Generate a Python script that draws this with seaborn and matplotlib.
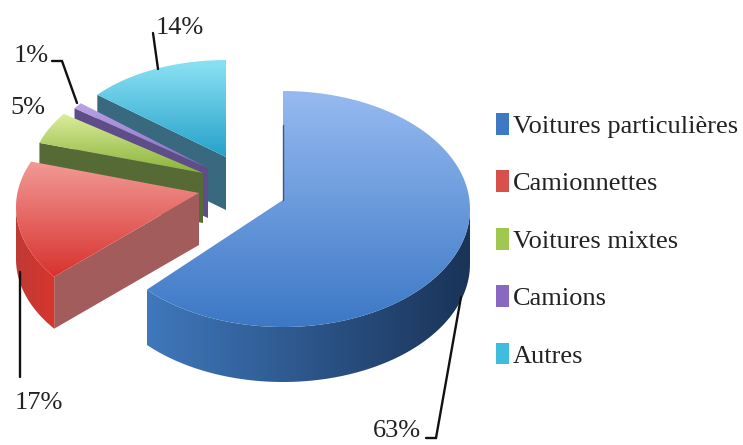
import numpy as np
import matplotlib
matplotlib.use('Agg')
import matplotlib.pyplot as plt
from matplotlib.patches import Polygon, Patch
import seaborn as sns

categories = ['Voitures particulières', 'Camionnettes', 'Voitures mixtes', 'Camions', 'Autres']
values = [63, 17, 5, 1, 14]

sns.set_theme(style='white')
plt.rcParams['font.family'] = ['Liberation Serif', 'DejaVu Serif']

# top gradient, face colour, rim gradient for each slice
top_colors = [('#96baf0', '#3c78c6'), ('#f29a96', '#d8322e'), ('#dcee9c', '#8ab33a'),
              ('#bba2e6', '#8a6cc0'), ('#8ce2f4', '#26a2ca')]
face_colors = ['#23456f', '#a35c5c', '#566a36', '#5f4d8a', '#39697f']
rim_colors = [('#3f78bc', '#1a3358'), ('#c03a34', '#d8352e'), ('#566a36', '#566a36'),
              ('#5f4d8a', '#5f4d8a'), ('#39697f', '#39697f')]
legend_colors = ['#3f78c4', '#d8504c', '#a0c850', '#8868c0', '#40bcdc']

# layout of the exploded slices in pixels: cx, cy, rx, ry, apex x, apex y, depth, turn
layout = [(283, 209, 187, 118, 283, 200, 55, 0),
          (199, 207, 183, 114, 199, 193, 52, 5.5),
          (203, 175, 172, 104, 203, 173, 50, 0),
          (208, 167, 165, 100, 208, 168, 50, 0),
          (226, 156, 167, 96, 226, 157, 53, 0)]

W, H = 743, 445
fig = plt.figure(figsize=(W / 100, H / 100), dpi=100)
ax = fig.add_axes([0, 0, 1, 1])

z = [2]


def fill_grad(pts, colors, horizontal=False):
    cmap = sns.blend_palette(colors, 64, as_cmap=True)
    z[0] += 1
    patch = Polygon(pts, closed=True, fc='none', ec='none', zorder=z[0])
    ax.add_patch(patch)
    grad = np.linspace(0, 1, 128)
    grad = grad[None, :] if horizontal else grad[:, None]
    xs, ys = pts[:, 0], pts[:, 1]
    im = ax.imshow(grad, cmap=cmap, aspect='auto', zorder=z[0], interpolation='bilinear',
                   extent=[xs.min(), xs.max(), ys.max(), ys.min()])
    im.set_clip_path(patch)


def arc(g, a, b):
    t = np.radians(np.linspace(a, b, 120))
    return np.column_stack([g[0] + g[2] * np.sin(t), g[1] - g[3] * np.cos(t)])


edges = np.concatenate([[0], np.cumsum(values)]) / sum(values) * 360

# back slices first, the blue one last
for i in [4, 3, 2, 1, 0]:
    g = layout[i]
    a, b = edges[i] + g[7], edges[i + 1] + g[7]
    apex = np.array([[g[4], g[5]]])
    drop = np.array([0, g[6]])
    outer = arc(g, a, b)

    # cut face on the start side, only seen for the slices on the left
    if i > 0:
        p0 = outer[0]
        face = np.vstack([apex, [p0], [p0 + drop], apex + drop])
        z[0] += 1
        ax.add_patch(Polygon(face, closed=True, fc=face_colors[i], ec='none', zorder=z[0]))

    # rim, front part of the ellipse only
    lo, hi = max(a, 90), min(b, 270)
    if lo < hi:
        rim = arc(g, lo, hi)
        fill_grad(np.vstack([rim, (rim + drop)[::-1]]), rim_colors[i], horizontal=True)

    fill_grad(np.vstack([apex, outer]), top_colors[i])

# dark sliver on the vertical cut of the big slice
z[0] += 1
ax.plot([283, 283], [125, 200], color=face_colors[0], lw=1, alpha=0.8, zorder=z[0])

# percent labels and leader lines
pct = [f'{v}%' for v in values]
label_pos = [(397, 431), (39, 403), (28, 108), (31, 56), (180, 28)]
leaders = [[(426, 438), (436, 438), (461, 297)],
           [(20, 272), (20, 377)],
           [],
           [(52, 61), (62, 61), (77, 103)],
           [(153, 33), (158, 69)]]
for s, (x, y), line in zip(pct, label_pos, leaders):
    ax.text(x, y, s, fontsize=19, color='#222222', ha='center', va='center', zorder=50)
    if line:
        xs, ys = zip(*line)
        ax.plot(xs, ys, color='#111111', lw=1.7, zorder=49, solid_joinstyle='miter')

handles = [Patch(fc=c, ec='none') for c in legend_colors]
ax.legend(handles, categories, loc='upper left', bbox_to_anchor=(496 / W, 1 - 113 / H),
          frameon=False, fontsize=19, labelspacing=1.225, handlelength=0.5, handleheight=0.9,
          handletextpad=0.15, borderpad=0, borderaxespad=0, labelcolor='#222222')

ax.set_xlim(0, W)
ax.set_ylim(H, 0)
ax.axis('off')
fig.savefig('out.png', dpi=100, facecolor='white')
